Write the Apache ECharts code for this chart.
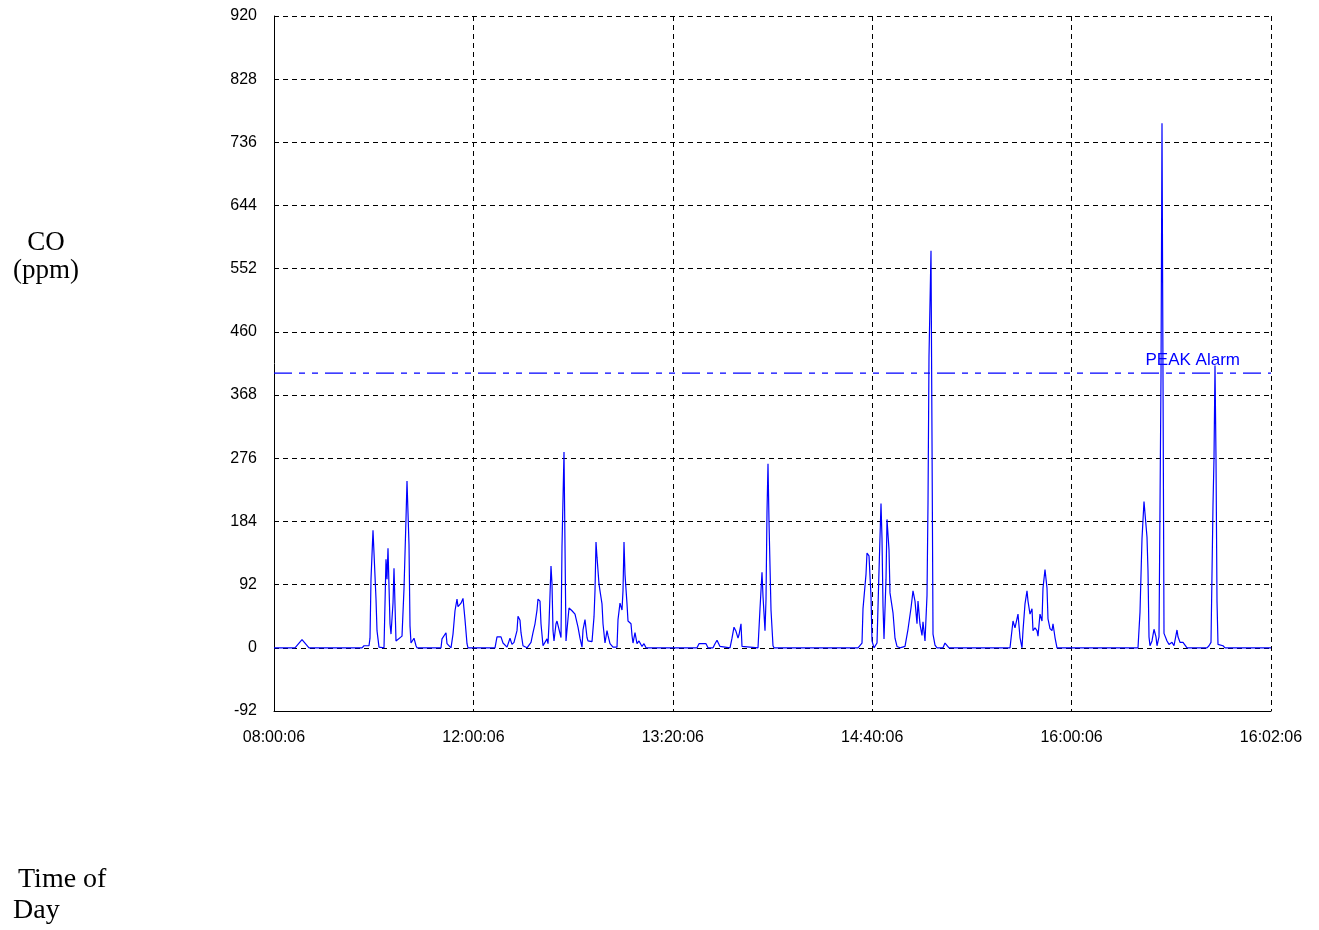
<!DOCTYPE html>
<html>
<head>
<meta charset="utf-8">
<script src="https://cdn.jsdelivr.net/npm/echarts@6/dist/echarts.min.js"></script>
<style>
html,body{margin:0;padding:0;background:#fff;}
#chart{width:1319px;height:930px;}
</style>
</head>
<body>
<div id="chart"></div>
<script>
// Time-axis tick labels (as printed on the instrument report)
const timeLabels = ['08:00:06', '12:00:06', '13:20:06', '14:40:06', '16:00:06', '16:02:06'];
// Y-axis range / step (ppm)
const yMin = -92, yMax = 920, yStep = 92;
// Alarm threshold
const peakAlarm = 400;
const peakAlarmLabel = 'PEAK Alarm';
// CO samples: [sample position along the time axis (0..997), CO ppm]
const coSamples = [
  [0,0],[21,0],[28,12],[35,0],
  [88,0],[90,3],[95,3],[96,14],[97,100],[99,171],[100,138],[102,71],[103,25],[105,1],[110,0],
  [112,129],[113,100],[114,145],[116,35],[117,20],[119,65],[120,116],[122,10],[124,12],[128,17],
  [130,86],[132,188],[133,243],[135,150],[136,32],[137,7],[140,14],[142,3],[143,0],
  [167,0],[168,13],[172,22],[173,6],[177,0],[179,20],[181,54],[183,71],[184,60],[187,65],[189,72],
  [191,41],[193,6],[194,0],
  [221,0],[223,16],[227,16],[229,7],[233,1],[236,14],[238,5],[240,8],[243,25],[244,46],[246,40],
  [247,22],[249,3],[253,0],[257,8],[259,22],[261,35],[263,55],[264,71],[266,68],[267,35],[269,3],
  [271,1],[273,13],[274,6],[275,35],[277,119],[278,93],[279,25],[280,10],[282,35],[283,39],[285,40],
  [287,15],[288,148],[290,285],[291,148],[292,10],[293,10],[295,58],[298,54],[301,49],[303,49],
  [304,30],[306,14],[308,1],[309,26],[311,41],[313,15],[314,10],[318,9],[320,45],[321,83],[322,154],
  [323,132],[325,93],[326,83],[328,64],[329,35],[331,7],[333,25],[334,18],[336,6],[339,1],[343,1],
  [344,41],[346,65],[348,55],[349,83],[350,154],[351,107],[353,64],[354,39],[357,35],[358,18],
  [359,7],[361,22],[363,6],[365,10],[368,2],[370,6],[372,0],
  [423,0],[425,6],[432,6],[434,0],[439,0],[441,6],[443,11],[446,2],[448,0],
  [456,0],[458,14],[460,30],[462,24],[464,14],[465,19],[467,35],[468,2],[469,0],
  [484,0],[486,57],[488,110],[489,75],[491,25],[492,70],[493,198],[494,268],[495,184],[497,55],
  [499,3],[500,0],
  [584,0],[588,7],[589,57],[592,107],[593,138],[595,134],[597,75],[598,10],[600,0],[603,7],
  [605,112],[607,210],[608,159],[609,61],[610,13],[612,100],[613,187],[615,143],[616,80],[618,78],
  [619,51],[621,14],[623,2],[626,0],[631,2],[634,27],[637,58],[639,83],[641,68],[643,35],[644,68],
  [646,34],[648,18],[649,38],[651,10],[653,76],[654,210],[655,425],[657,578],[658,304],[659,20],
  [661,4],[663,0],[669,0],[671,7],[673,6],[675,0],
  [736,0],[739,39],[741,29],[743,27],[744,49],[746,15],[748,0],[749,25],[751,64],[753,83],[754,68],
  [756,49],[758,57],[759,25],[761,29],[763,25],[764,17],[766,49],[768,39],[769,87],[771,114],
  [773,87],[774,42],[776,28],[778,25],[779,35],[781,15],[783,0],
  [864,0],[866,52],[868,159],[870,213],[871,211],[873,161],[874,112],[875,16],[876,3],[878,10],
  [880,27],[882,16],[883,3],[885,16],[887,395],[888,764],[889,395],[890,21],[893,10],[895,5],
  [898,8],[900,3],[903,26],[904,16],[906,8],[909,8],[913,0],
  [933,0],[935,3],[937,8],[939,208],[940,276],[941,411],[942,276],[943,68],[944,5],[949,3],[951,0],
  [997,0]
];
const xSpan = 997;
const xStep = xSpan / (timeLabels.length - 1);

const chart = echarts.init(document.getElementById('chart'), null, {renderer: 'canvas'});
const axisFont = {fontFamily: '"Liberation Sans", Arial, sans-serif', fontSize: 16, color: '#000'};
const serif = '"Liberation Serif", "Times New Roman", serif';
chart.setOption({
  animation: false,
  backgroundColor: '#fff',
  color: ['#0000ff', '#0000ff'],
  grid: {left: 274, right: 48, top: 16, bottom: 219, containLabel: false},
  xAxis: {
    type: 'value', min: 0, max: xSpan, interval: xStep,
    axisLine: {show: true, onZero: false, lineStyle: {color: '#000', width: 1}},
    axisTick: {show: false},
    splitLine: {show: true, lineStyle: {color: '#000', type: [5, 4], width: 1}},
    axisLabel: Object.assign({margin: 19, showMinLabel: true, showMaxLabel: true,
      formatter: v => timeLabels[Math.round(v / xStep)] || ''}, axisFont)
  },
  yAxis: {
    type: 'value', min: yMin, max: yMax, interval: yStep,
    axisLine: {show: true, onZero: false, lineStyle: {color: '#000', width: 1}},
    axisTick: {show: false},
    splitLine: {show: true, lineStyle: {color: '#000', type: [5, 4], width: 1}},
    axisLabel: Object.assign({margin: 17}, axisFont)
  },
  series: [{
    name: 'CO',
    type: 'line',
    data: coSamples,
    showSymbol: false,
    symbol: 'none',
    smooth: false,
    lineStyle: {color: '#0000ff', width: 1.2},
    itemStyle: {color: '#0000ff'}
  }, {
    name: peakAlarmLabel,
    type: 'line',
    data: [[0, peakAlarm], [xSpan, peakAlarm]],
    showSymbol: false,
    symbol: 'none',
    silent: true,
    z: 3,
    lineStyle: {color: '#0000ff', width: 1.2, type: [18, 7, 6, 7, 6, 7]},
    itemStyle: {color: '#0000ff'},
    endLabel: {
      show: true, formatter: peakAlarmLabel, color: '#0000ff',
      fontFamily: '"Liberation Sans", Arial, sans-serif', fontSize: 17,
      align: 'right', verticalAlign: 'middle', distance: 0, offset: [-31, -13]
    }
  }],
  graphic: [
    {type: 'text', x: 46, y: 243, style: {text: 'CO', font: '27px ' + serif, fill: '#000', textAlign: 'center', textVerticalAlign: 'middle'}},
    {type: 'text', x: 46, y: 271, style: {text: '(ppm)', font: '27px ' + serif, fill: '#000', textAlign: 'center', textVerticalAlign: 'middle'}},
    {type: 'text', x: 18, y: 880, style: {text: 'Time of', font: '28px ' + serif, fill: '#000', textAlign: 'left', textVerticalAlign: 'middle'}},
    {type: 'text', x: 13, y: 911, style: {text: 'Day', font: '28px ' + serif, fill: '#000', textAlign: 'left', textVerticalAlign: 'middle'}}
  ]
});
</script>
</body>
</html>
